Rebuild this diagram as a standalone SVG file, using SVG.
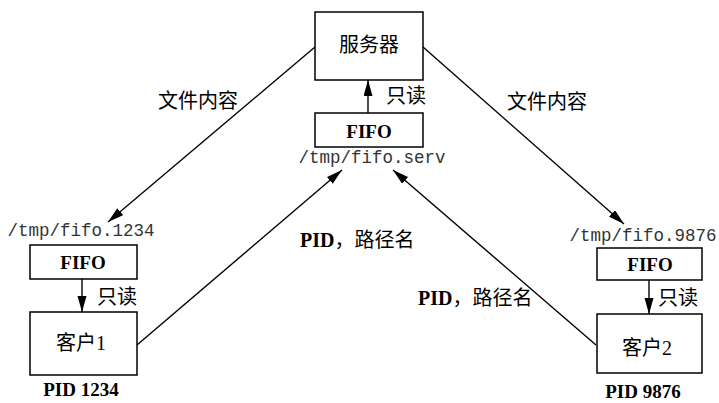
<svg xmlns="http://www.w3.org/2000/svg" width="719" height="403" viewBox="0 0 719 403">
<style>
.box{fill:#fff;stroke:#000;stroke-width:1.5}
.line{stroke:#000;stroke-width:1.4;fill:none}
.cjk{font-family:"Liberation Serif","Noto Sans CJK SC",serif;font-size:20px;fill:#000}
.fifo{font-family:"Liberation Serif",serif;font-weight:bold;font-size:19px;fill:#000}
.mono{font-family:"Liberation Mono",monospace;font-size:17.5px;fill:#333}
.pid{font-family:"Liberation Serif",serif;font-weight:bold;font-size:19px;fill:#000}
</style>
<defs>
<marker id="arr" markerUnits="userSpaceOnUse" markerWidth="17" markerHeight="10" refX="16" refY="4.5" orient="auto">
<path d="M0,0 L16,4.5 L0,9 z" fill="#000"/>
</marker>
</defs>
<g id="server">
<rect class="box" x="315" y="12" width="108" height="68"/>
<text class="cjk" x="369" y="52" text-anchor="middle">服务器</text>
</g>
<g id="fifo-serv">
<rect class="box" x="315" y="113" width="108" height="34"/>
<text class="fifo" x="369" y="138" text-anchor="middle">FIFO</text>
<text class="mono" x="372" y="163" text-anchor="middle">/tmp/fifo.serv</text>
</g>
<g id="fifo-1234">
<text class="mono" x="81" y="236" text-anchor="middle">/tmp/fifo.1234</text>
<rect class="box" x="30" y="245" width="107" height="34"/>
<text class="fifo" x="83" y="269" text-anchor="middle">FIFO</text>
</g>
<g id="client1">
<rect class="box" x="30" y="312" width="107" height="63"/>
<text class="cjk" x="81" y="350" text-anchor="middle">客户1</text>
<text class="pid" x="81" y="396" text-anchor="middle">PID 1234</text>
</g>
<g id="fifo-9876">
<text class="mono" x="643" y="241" text-anchor="middle">/tmp/fifo.9876</text>
<rect class="box" x="597" y="248" width="105" height="32"/>
<text class="fifo" x="650" y="271" text-anchor="middle">FIFO</text>
</g>
<g id="client2">
<rect class="box" x="597" y="314" width="105" height="59"/>
<text class="cjk" x="647" y="355" text-anchor="middle">客户2</text>
<text class="pid" x="643" y="398" text-anchor="middle">PID 9876</text>
</g>
<g id="connectors">
<line class="line" x1="368" y1="113" x2="368" y2="80" marker-end="url(#arr)"/>
<line class="line" x1="82" y1="279" x2="82" y2="312" marker-end="url(#arr)"/>
<line class="line" x1="649" y1="280" x2="649" y2="314" marker-end="url(#arr)"/>
<line class="line" x1="315" y1="47" x2="108" y2="222" marker-end="url(#arr)"/>
<line class="line" x1="423" y1="47" x2="624" y2="224" marker-end="url(#arr)"/>
<line class="line" x1="137" y1="345" x2="342" y2="170" marker-end="url(#arr)"/>
<line class="line" x1="596" y1="345" x2="393" y2="170" marker-end="url(#arr)"/>
<text class="cjk" x="386" y="103">只读</text>
<text class="cjk" x="97" y="304">只读</text>
<text class="cjk" x="658" y="305">只读</text>
<text class="cjk" x="158" y="108">文件内容</text>
<text class="cjk" x="507" y="109">文件内容</text>
<text class="cjk" x="300" y="247"><tspan font-weight="bold">PID</tspan>，路径名</text>
<text class="cjk" x="418" y="305"><tspan font-weight="bold">PID</tspan>，路径名</text>
</g>
</svg>
